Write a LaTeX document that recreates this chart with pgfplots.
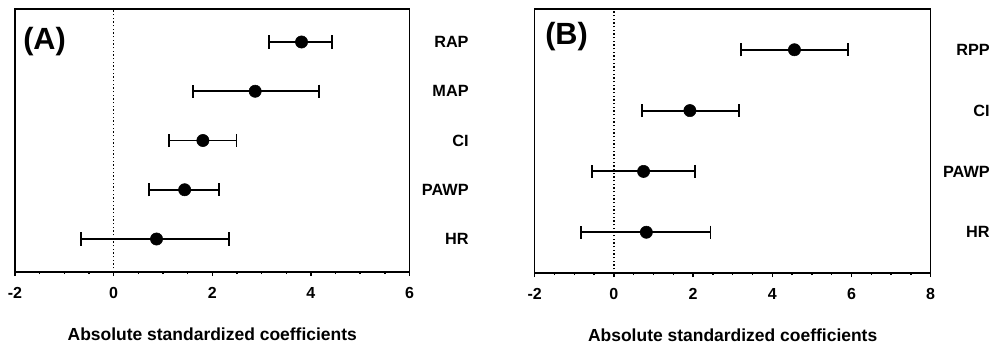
\documentclass[border=0pt]{standalone}
\usepackage{pgfplots}
\pgfplotsset{compat=1.18}
\usepackage{pgfplotstable}
\usepackage{fontspec}
\setmainfont{Liberation Sans}

\pgfplotstableread{
y  x    ep   em
5  3.81 0.62 0.66
4  2.87 1.29 1.26
3  1.81 0.68 0.68
2  1.44 0.70 0.73
1  0.87 1.47 1.53
}\dataA

\pgfplotstableread{
y  x    ep   em
4  4.56 1.36 1.35
3  1.92 1.23 1.20
2  0.75 1.29 1.30
1  0.82 1.62 1.65
}\dataB

\pgfplotsset{
  forest/.style={
    scale only axis,
    axis line style={black, line width=0.8pt},
    tick align=outside,
    xtick pos=bottom,
    ytick pos=right,
    yticklabel pos=right,
    ytick style={draw=none},
    xtick style={black, line width=1.1pt},
    major tick length=3pt,
    minor tick length=1.6pt,
    minor x tick num=3,
    /pgf/number format/assume math mode=true,
    xticklabel style={font=\fontsize{12}{14}\selectfont\bfseries, anchor=north, inner sep=0pt, yshift=-8.5pt},
    yticklabel style={font=\fontsize{12.2}{14}\selectfont\bfseries, anchor=east, inner sep=0pt, xshift=41.5pt},
    xlabel={Absolute standardized coefficients},
    xlabel style={font=\fontsize{13.1}{15}\selectfont\bfseries, at={(axis description cs:0.5,0)}, anchor=center, yshift=-46.5pt},
    ymin=0.33,
  },
  fplot/.style={
    black, only marks, mark=*, mark size=4.6pt,
    mark options={fill=black, draw=black},
    error bars/x dir=both, error bars/x explicit,
    error bars/error bar style={line width=1.4pt, black},
    error bars/error mark options={rotate=90, line width=1.4pt, mark size=4.9pt, black},
  },
}

\begin{document}
\begin{tikzpicture}
\useasboundingbox (0,0) rectangle (744pt,260.25pt);

\begin{axis}[forest,
  at={(11.25pt,56.25pt)}, anchor=south west,
  width=295.9pt, height=197.25pt,
  xmin=-2, xmax=6, xtick={-2,0,2,4,6},
  ymax=5.67, ytick={1,2,3,4,5},
  yticklabels={HR,PAWP,CI,MAP,RAP},
]
\draw[black, line width=1pt, dash pattern=on 1.1pt off 1.65pt] (axis cs:0,0.33) -- (axis cs:0,5.67);
\addplot[fplot] table[x=x, y=y, x error plus=ep, x error minus=em] {\dataA};
\draw[black, line width=1.5pt] (rel axis cs:0,0) -- (rel axis cs:1,0);
\end{axis}

\begin{axis}[forest,
  at={(401pt,55.5pt)}, anchor=south west,
  width=297pt, height=198pt,
  xmin=-2, xmax=8, xtick={-2,0,2,4,6,8},
  ymax=4.67, ytick={1,2,3,4},
  yticklabels={HR,PAWP,CI,RPP},
]
\draw[black, line width=1pt, dash pattern=on 1.1pt off 1.65pt] (axis cs:0,0.33) -- (axis cs:0,4.67);
\addplot[fplot] table[x=x, y=y, x error plus=ep, x error minus=em] {\dataB};
\draw[black, line width=1.5pt] (rel axis cs:0,0) -- (rel axis cs:1,0);
\end{axis}

\node[anchor=west, inner sep=0pt, font=\fontsize{23}{26}\selectfont\bfseries] at (17.25pt,228.75pt) {(A)};
\node[anchor=west, inner sep=0pt, font=\fontsize{23}{26}\selectfont\bfseries] at (408.75pt,232.5pt) {(B)};
\end{tikzpicture}
\end{document}
